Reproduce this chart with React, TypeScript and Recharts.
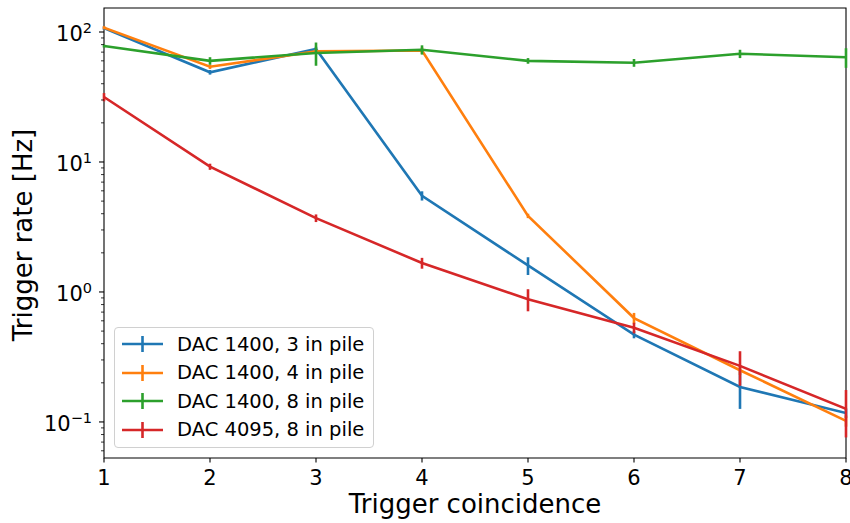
import React from "react";
import {
  ErrorBar,
  Line,
  LineChart,
  ReferenceArea,
  XAxis,
  YAxis,
} from "recharts";

const BLUE = "#1f77b4";
const ORANGE = "#ff7f0e";
const GREEN = "#2ca02c";
const RED = "#d62728";
const FONT = "'DejaVu Sans', sans-serif";

const COINCIDENCE = [1, 2, 3, 4, 5, 6, 7, 8];

const DAC1400_3 = [107, 49, 74, 5.5, 1.6, 0.47, 0.186, 0.117];
const DAC1400_3_ERR = [3, 2, 3, 0.45, 0.25, 0.03, 0.06, 0.01];

const DAC1400_4 = [108, 54, 71, 72, 3.85, 0.63, 0.25, 0.102];
const DAC1400_4_ERR = [3, 2, 3, 4, 0.15, 0.06, 0.02, 0.01];

const DAC1400_8 = [78, 60, 69, 73, 60, 58, 68, 64];
const DAC1400_8_ERR = [2, 4, 14, 6, 3, 4, 5, 11];

const DAC4095_8 = [31.6, 9.2, 3.7, 1.67, 0.88, 0.53, 0.27, 0.126];
const DAC4095_8_ERR = [2.3, 0.5, 0.25, 0.16, 0.17, 0.05, 0.08, 0.05];

const Y_DOMAIN = [0.0528, 153];
const X_TICKS = [1, 2, 3, 4, 5, 6, 7, 8];

const SERIES = [
  { key: "d3", err: "d3e", name: "DAC 1400, 3 in pile", color: BLUE },
  { key: "d4", err: "d4e", name: "DAC 1400, 4 in pile", color: ORANGE },
  { key: "d8", err: "d8e", name: "DAC 1400, 8 in pile", color: GREEN },
  { key: "r8", err: "r8e", name: "DAC 4095, 8 in pile", color: RED },
];

const rows = COINCIDENCE.map((x, i) => ({
  x,
  d3: DAC1400_3[i],
  d3e: DAC1400_3_ERR[i],
  d4: DAC1400_4[i],
  d4e: DAC1400_4_ERR[i],
  d8: DAC1400_8[i],
  d8e: DAC1400_8_ERR[i],
  r8: DAC4095_8[i],
  r8e: DAC4095_8_ERR[i],
}));

// major + minor log ticks inside the domain
const yTicks: number[] = [];
for (let e = -2; e <= 2; e++) {
  for (let m = 1; m <= 9; m++) {
    const v = m * Math.pow(10, e);
    if (v >= Y_DOMAIN[0] && v <= Y_DOMAIN[1]) yTicks.push(v);
  }
}

const YTick = (props: any) => {
  const { x, y, payload } = props;
  const e = Math.log10(payload.value);
  const major = Math.abs(e - Math.round(e)) < 1e-6;
  const exp = Math.round(e);
  return (
    <g>
      <line
        x1={x}
        x2={x - (major ? 5 : 3)}
        y1={y}
        y2={y}
        stroke="#000"
        strokeWidth={major ? 1.1 : 0.8}
      />
      {major && (
        <text
          x={x - 12}
          y={y + 9}
          textAnchor="end"
          fontFamily={FONT}
          fontSize={21}
          fill="#000"
        >
          <tspan>10</tspan>
          <tspan dy={-8} fontSize={14.5}>
            {exp < 0 ? "\u2212" + Math.abs(exp) : String(exp)}
          </tspan>
        </text>
      )}
    </g>
  );
};

const XTick = (props: any) => {
  const { x, y, payload } = props;
  return (
    <g>
      <line x1={x} x2={x} y1={y} y2={y + 4.5} stroke="#000" strokeWidth={1.1} />
      <text
        x={x}
        y={y + 27}
        textAnchor="middle"
        fontFamily={FONT}
        fontSize={21}
        fill="#000"
      >
        {payload.value}
      </text>
    </g>
  );
};

function LegendBox() {
  return (
    <div
      style={{
        position: "absolute",
        left: 114,
        top: 327,
        width: 260,
        height: 121,
        boxSizing: "border-box",
        border: "1px solid #d0d0d0",
        borderRadius: 4,
        background: "rgba(255,255,255,0.8)",
        fontFamily: FONT,
        fontSize: 19.5,
        color: "#000",
        paddingTop: 2,
      }}
    >
      {SERIES.map((s) => (
        <div
          key={s.key}
          style={{ display: "flex", alignItems: "center", height: 28.5, whiteSpace: "nowrap" }}
        >
          <svg width={60} height={20} style={{ flex: "none" }}>
            <line x1={7} x2={48} y1={10} y2={10} stroke={s.color} strokeWidth={2.6} />
            <line x1={27.5} x2={27.5} y1={2} y2={18} stroke={s.color} strokeWidth={2.6} />
          </svg>
          <span style={{ marginLeft: 2 }}>{s.name}</span>
        </div>
      ))}
    </div>
  );
}

export default function App() {
  return (
    <div
      style={{
        position: "absolute",
        left: 0,
        top: 0,
        width: 850,
        height: 523,
        background: "#fff",
      }}
    >
      <LineChart
        width={850}
        height={523}
        data={rows}
        margin={{ top: 8, right: 4, bottom: 0, left: 0 }}
      >
        <XAxis
          dataKey="x"
          type="number"
          domain={[1, 8]}
          ticks={X_TICKS}
          tick={<XTick />}
          tickSize={0}
          tickMargin={0}
          axisLine={false}
          tickLine={false}
          height={65}
          allowDataOverflow
          label={{
            content: () => (
              <text
                x={475}
                y={513}
                textAnchor="middle"
                fontFamily={FONT}
                fontSize={26}
                fill="#000"
              >
                Trigger coincidence
              </text>
            ),
          }}
        />
        <YAxis
          type="number"
          scale="log"
          domain={Y_DOMAIN}
          ticks={yTicks}
          interval={0}
          tick={<YTick />}
          tickSize={0}
          tickMargin={0}
          axisLine={false}
          tickLine={false}
          width={104}
          allowDataOverflow
          label={{
            content: () => (
              <text
                x={32}
                y={235}
                transform="rotate(-90 32 235)"
                textAnchor="middle"
                fontFamily={FONT}
                fontSize={26}
                fill="#000"
              >
                Trigger rate [Hz]
              </text>
            ),
          }}
        />
        {SERIES.map((s) => (
          <Line
            key={s.key}
            dataKey={s.key}
            name={s.name}
            stroke={s.color}
            strokeWidth={2.6}
            dot={false}
            activeDot={false}
            isAnimationActive={false}
          >
            <ErrorBar
              dataKey={s.err}
              direction="y"
              width={0}
              stroke={s.color}
              strokeWidth={2.6}
              isAnimationActive={false}
            />
          </Line>
        ))}
        <ReferenceArea
          x1={1}
          x2={8}
          y1={Y_DOMAIN[0]}
          y2={Y_DOMAIN[1]}
          fill="none"
          stroke="#000"
          strokeWidth={1.1}
          ifOverflow="visible"
        />
      </LineChart>
      <LegendBox />
    </div>
  );
}
